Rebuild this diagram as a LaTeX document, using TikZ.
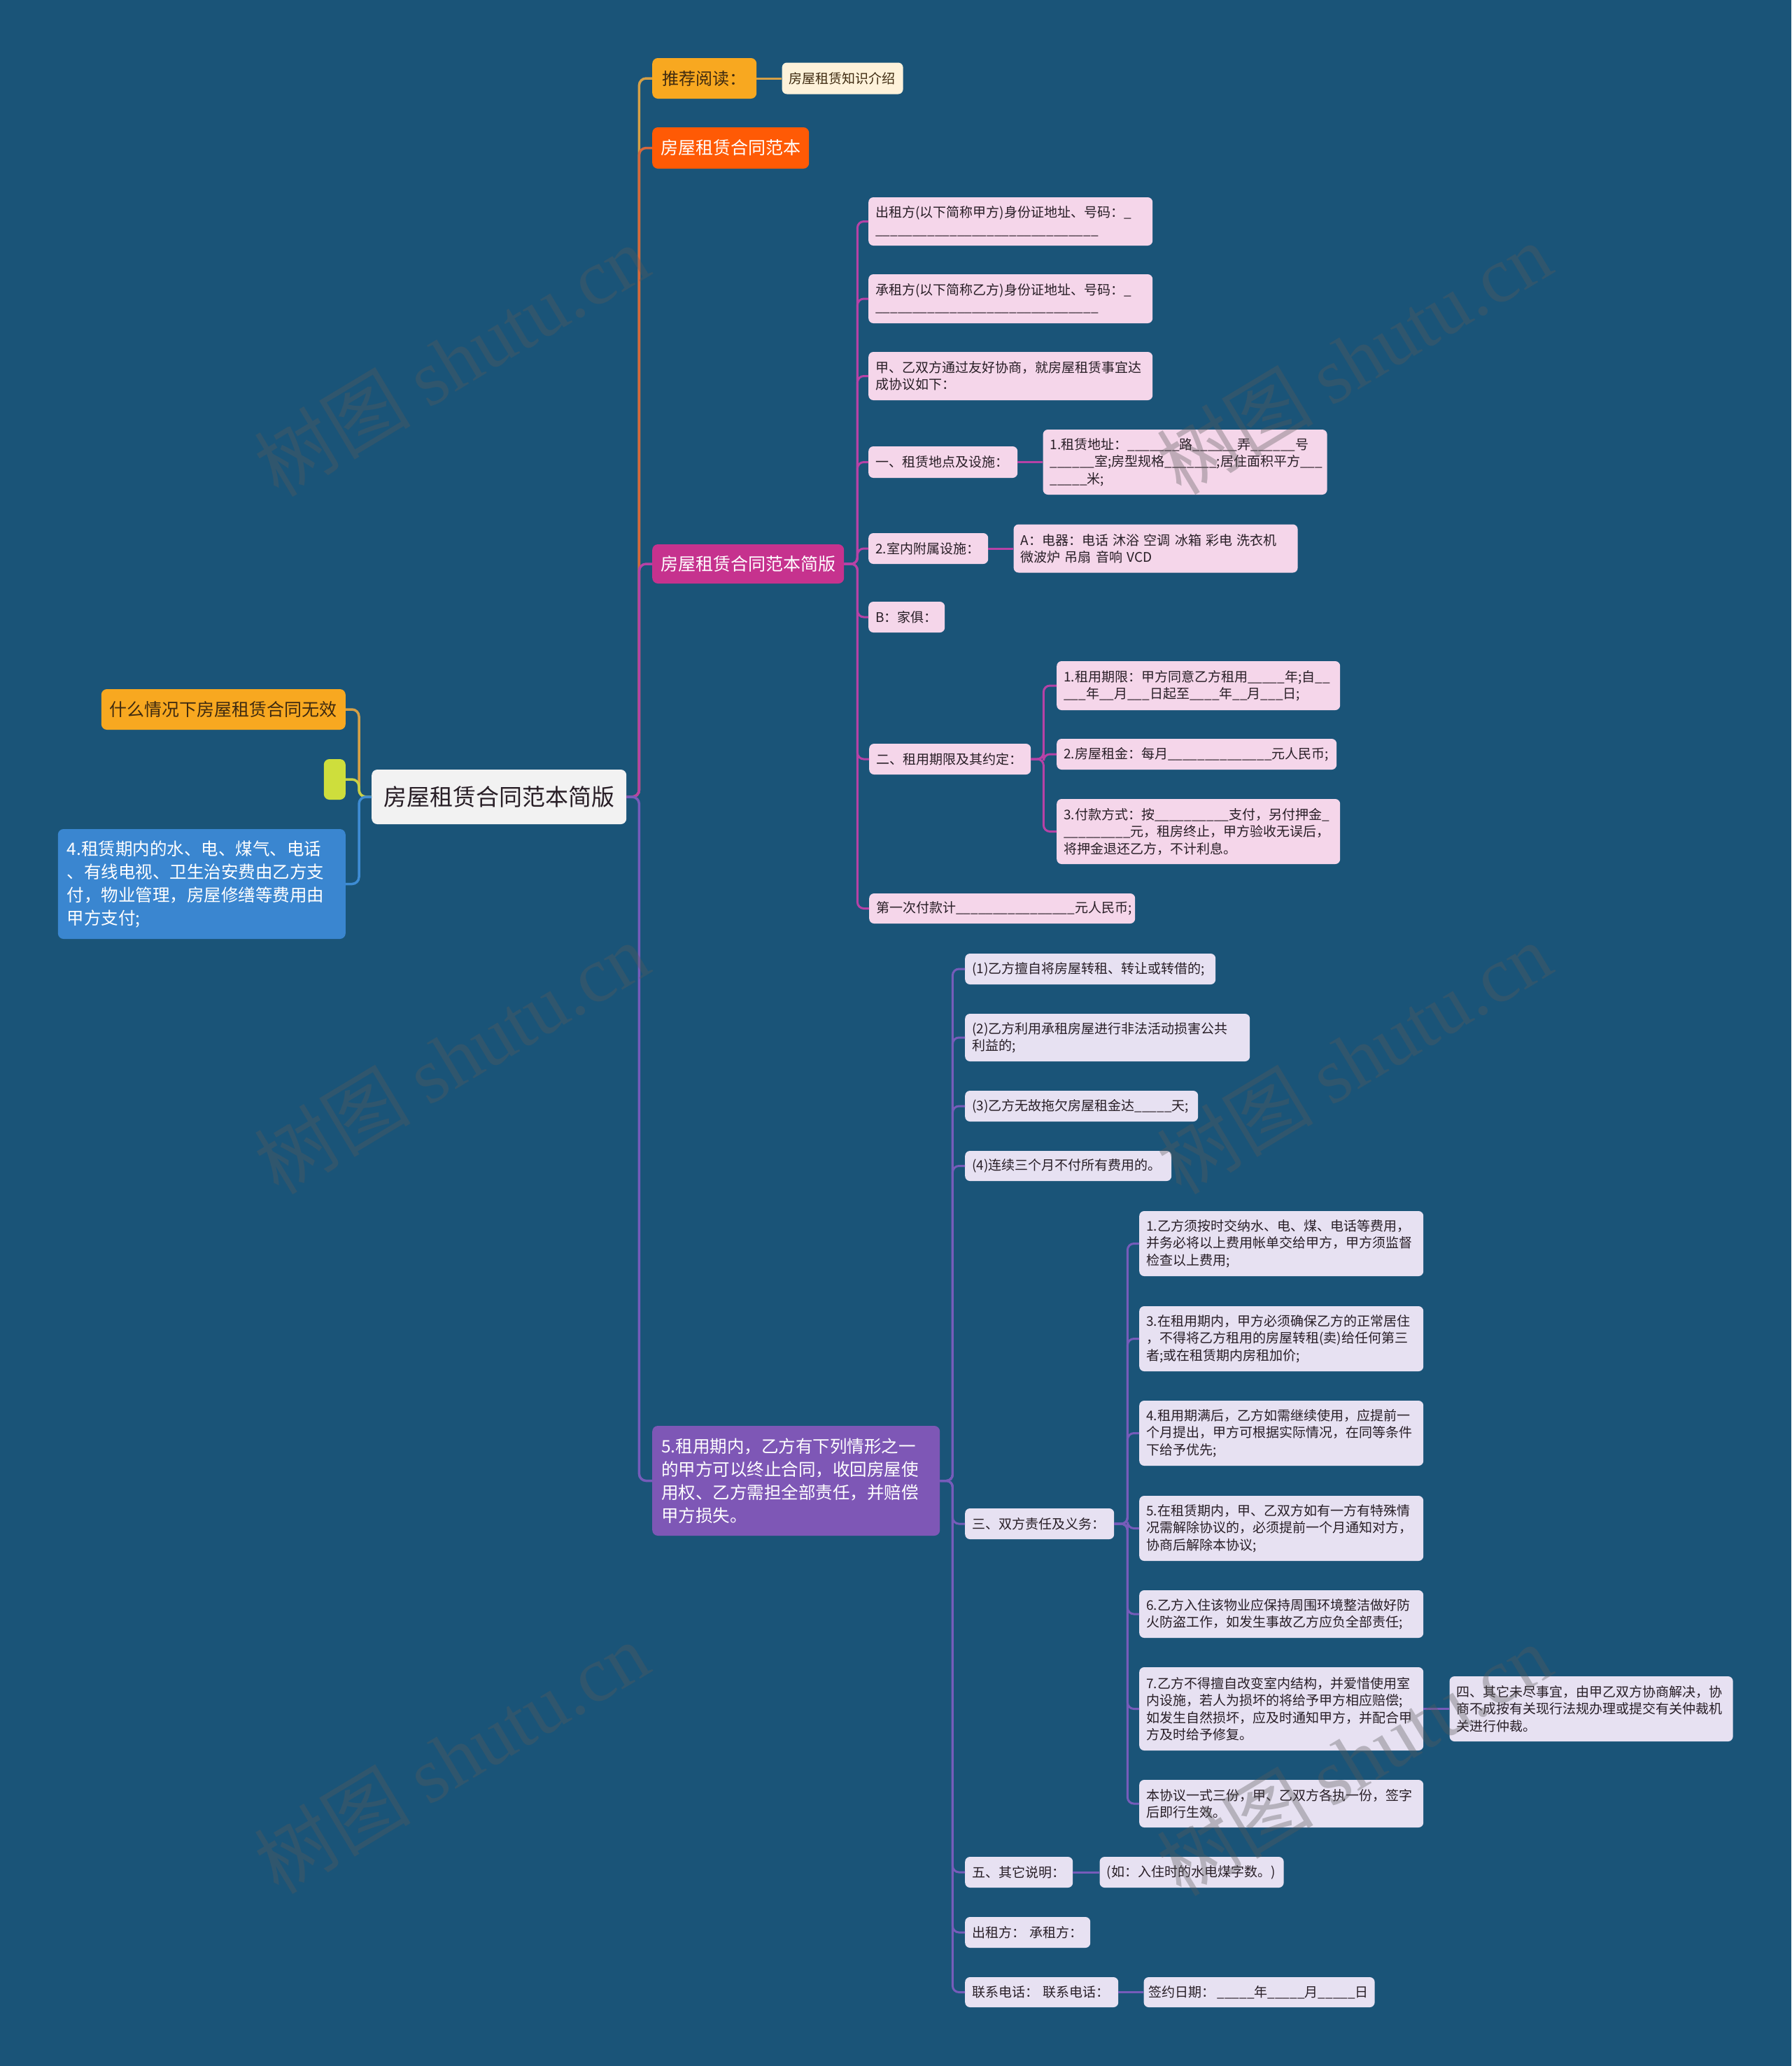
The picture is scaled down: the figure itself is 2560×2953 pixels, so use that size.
\documentclass[tikz,border=0pt]{standalone}
\usepackage{fontspec}
\setmainfont{Noto Sans CJK SC}
\newfontfamily\markfont{Liberation Serif}
\usetikzlibrary{positioning}

\definecolor{bgblue}{RGB}{26,84,120}
\definecolor{goldfill}{RGB}{248,168,32}
\definecolor{goldline}{RGB}{214,160,70}
\definecolor{creamfill}{RGB}{254,242,218}
\definecolor{redfill}{RGB}{255,90,5}
\definecolor{redline}{RGB}{214,104,60}
\definecolor{magfill}{RGB}{198,50,142}
\definecolor{magline}{RGB}{182,66,166}
\definecolor{pinkfill}{RGB}{245,214,234}
\definecolor{purpfill}{RGB}{126,87,182}
\definecolor{purpline}{RGB}{118,92,186}
\definecolor{lavfill}{RGB}{231,225,242}
\definecolor{rootfill}{RGB}{242,242,242}
\definecolor{limefill}{RGB}{206,222,60}
\definecolor{limeline}{RGB}{200,210,70}
\definecolor{bluefill}{RGB}{58,134,208}
\definecolor{blueline}{RGB}{62,140,212}
\definecolor{inkdark}{RGB}{40,30,38}
\definecolor{inkbrown}{RGB}{62,42,16}
\definecolor{markgray}{RGB}{90,90,90}

\newcommand{\fsz}[2]{\fontsize{#1pt}{#2pt}\selectfont}
\newcommand{\blanks}[1]{\foreach\bk in {1,...,#1}{\_}}

\begin{document}
\begin{tikzpicture}[x=1pt, y=-1pt,
  box/.style={rounded corners=7pt, inner ysep=0pt, inner xsep=10pt, anchor=west,
              align=left, text=inkdark},
  topic/.style={box, inner xsep=12pt, rounded corners=8pt},
  pleaf/.style={box, fill=pinkfill, font=\fsz{19}{24.5}},
  vleaf/.style={box, fill=lavfill, font=\fsz{19}{24.5}},
  link/.style={line width=3.5pt, rounded corners=10pt},
  sublink/.style={line width=3pt, rounded corners=9pt},
  wmark/.style={text=markgray, opacity=0.35, rotate=31, font=\fsz{112}{112}},
  node distance=36pt
]
\fill[bgblue] (0,0) rectangle (2560,2953);
\useasboundingbox (0,0) rectangle (2560,2953);

% centre and main branches
\node[topic, fill=rootfill, align=center, minimum width=364pt, minimum height=78pt,
      font=\fsz{33}{40}] (root) at (531,1139) {房屋租赁合同范本简版};
\node[topic, fill=goldfill, text=inkbrown, minimum width=149pt, minimum height=58pt,
      font=\fsz{24}{30}] (tuijian) at (932,112) {推荐阅读：};
\node[box, fill=creamfill, text=inkbrown, right=of tuijian, text width=153pt,
      minimum height=45pt, font=\fsz{19}{24}] (zhishi) {房屋租赁知识介绍};
\node[topic, fill=redfill, text=white, minimum width=223pt, minimum height=59pt,
      font=\fsz{25}{31}] (fanben) at (932,211.5) {房屋租赁合同范本};
\node[topic, fill=magfill, text=white, minimum width=272pt, minimum height=56pt,
      font=\fsz{25}{31}] (jianban) at (932,806) {房屋租赁合同范本简版};
\node[topic, fill=purpfill, text=white, inner xsep=13pt, text width=385pt,
      minimum height=157pt, font=\fsz{24.5}{33}] (zuyong) at (932,2116.5)
  {5.租用期内，乙方有下列情形之一\\的甲方可以终止合同，收回房屋使\\用权、乙方需担全部责任，并赔偿\\甲方损失。};

% left side
\node[topic, fill=goldfill, text=inkbrown, minimum width=347pt, minimum height=58pt,
      font=\fsz{25}{31}, anchor=east] (wuxiao) at (494,1014) {什么情况下房屋租赁合同无效};
\node[topic, fill=limefill, inner sep=0pt, minimum width=31pt, minimum height=58pt,
      anchor=east] (kong) at (494,1114) {};
\node[topic, fill=bluefill, text=white, inner xsep=13pt, text width=385pt,
      minimum height=157pt, font=\fsz{24.5}{33}, anchor=east] (shuidian) at (494,1263.5)
  {4.租赁期内的水、电、煤气、电话\\、有线电视、卫生治安费由乙方支\\付，物业管理，房屋修缮等费用由\\甲方支付;};

% children of jianban
\node[pleaf, text width=386pt, minimum height=69pt] (p1) at (1241,316.5)
  {出租方(以下简称甲方)身份证地址、号码：\_\\\blanks{30}};
\node[pleaf, text width=386pt, minimum height=70pt] (p2) at (1241,427)
  {承租方(以下简称乙方)身份证地址、号码：\_\\\blanks{30}};
\node[pleaf, text width=386pt, minimum height=69pt] (p3) at (1241,537.5)
  {甲、乙双方通过友好协商，就房屋租赁事宜达\\成协议如下：};
\node[pleaf, text width=193pt, minimum height=45pt] (p4) at (1241,660.5) {一、租赁地点及设施：};
\node[pleaf, right=of p4, text width=386pt, minimum height=93pt] (p4a)
  {1.租赁地址：\blanks{7}路\blanks{6}弄\blanks{6}号\\\blanks{6}室;房型规格\blanks{7};居住面积平方\blanks{3}\\\blanks{5}米;};
\node[pleaf, text width=151pt, minimum height=44pt] (p5) at (1241,784) {2.室内附属设施：};
\node[pleaf, right=of p5, text width=386pt, minimum height=69pt] (p5a)
  {A：电器：电话 沐浴 空调 冰箱 彩电 洗衣机\\微波炉 吊扇 音响 VCD};
\node[pleaf, text width=89pt, minimum height=44pt] (p6) at (1241,882) {B：家俱：};
\node[pleaf, text width=211pt, minimum height=44pt] (p7) at (1242,1085) {二、租用期限及其约定：};
\node[pleaf, text width=385pt, minimum height=70pt] (p7a) at (1510,980)
  {1.租用期限：甲方同意乙方租用\blanks{5}年;自\blanks{2}\\\blanks{3}年\blanks{2}月\blanks{3}日起至\blanks{4}年\blanks{2}月\blanks{3}日;};
\node[pleaf, text width=380pt, minimum height=44pt] (p7b) at (1510,1078)
  {2.房屋租金：每月\blanks{14}元人民币;};
\node[pleaf, text width=385pt, minimum height=93pt] (p7c) at (1510,1188.5)
  {3.付款方式：按\blanks{10}支付，另付押金\_\\\blanks{9}元，租房终止，甲方验收无误后，\\将押金退还乙方，不计利息。};
\node[pleaf, text width=360pt, minimum height=43pt] (p8) at (1242,1298.5)
  {第一次付款计\blanks{16}元人民币;};

% children of zuyong
\node[vleaf, text width=338pt, minimum height=44pt] (q1) at (1379,1385)
  {(1)乙方擅自将房屋转租、转让或转借的;};
\node[vleaf, text width=387pt, minimum height=68pt] (q2) at (1379,1483)
  {(2)乙方利用承租房屋进行非法活动损害公共\\利益的;};
\node[vleaf, text width=313pt, minimum height=44pt] (q3) at (1379,1581)
  {(3)乙方无故拖欠房屋租金达\blanks{5}天;};
\node[vleaf, text width=275pt, minimum height=43pt] (q4) at (1379,1666.5)
  {(4)连续三个月不付所有费用的。};
\node[vleaf, text width=193pt, minimum height=44pt] (q5) at (1379,2178) {三、双方责任及义务：};
\node[vleaf, text width=386pt, minimum height=93pt] (q5a) at (1628,1777.5)
  {1.乙方须按时交纳水、电、煤、电话等费用，\\并务必将以上费用帐单交给甲方，甲方须监督\\检查以上费用;};
\node[vleaf, text width=386pt, minimum height=93pt] (q5b) at (1628,1913.5)
  {3.在租用期内，甲方必须确保乙方的正常居住\\，不得将乙方租用的房屋转租(卖)给任何第三\\者;或在租赁期内房租加价;};
\node[vleaf, text width=386pt, minimum height=93pt] (q5c) at (1628,2048.5)
  {4.租用期满后，乙方如需继续使用，应提前一\\个月提出，甲方可根据实际情况，在同等条件\\下给予优先;};
\node[vleaf, text width=386pt, minimum height=93pt] (q5d) at (1628,2184.5)
  {5.在租赁期内，甲、乙双方如有一方有特殊情\\况需解除协议的，必须提前一个月通知对方，\\协商后解除本协议;};
\node[vleaf, text width=386pt, minimum height=68pt] (q5e) at (1628,2307)
  {6.乙方入住该物业应保持周围环境整洁做好防\\火防盗工作，如发生事故乙方应负全部责任;};
\node[vleaf, text width=386pt, minimum height=119pt] (q5f) at (1628,2442.5)
  {7.乙方不得擅自改变室内结构，并爱惜使用室\\内设施，若人为损坏的将给予甲方相应赔偿;\\如发生自然损坏，应及时通知甲方，并配合甲\\方及时给予修复。};
\node[vleaf, right=37pt of q5f, text width=385pt, minimum height=93pt] (q5f1)
  {四、其它未尽事宜，由甲乙双方协商解决，协\\商不成按有关现行法规办理或提交有关仲裁机\\关进行仲裁。};
\node[vleaf, text width=386pt, minimum height=68pt] (q5g) at (1628,2578)
  {本协议一式三份，甲、乙双方各执一份，签字\\后即行生效。};
\node[vleaf, text width=134pt, minimum height=44pt] (q6) at (1379,2676) {五、其它说明：};
\node[vleaf, right=38pt of q6, text width=243pt, minimum height=44pt] (q6a)
  {(如：入住时的水电煤字数。)};
\node[vleaf, text width=159pt, minimum height=44pt] (q7) at (1379,2762) {出租方：~承租方：};
\node[vleaf, text width=199pt, minimum height=43pt] (q8) at (1379,2847.5) {联系电话：~联系电话：};
\node[vleaf, right=of q8, inner xsep=7pt, text width=316pt, minimum height=43pt] (q8a)
  {签约日期：\hspace{3pt}\blanks{5}年\blanks{5}月\blanks{5}日};

% connectors
\draw[link, goldline] (root.east) -- ++(18,0) |- (tuijian.west);
\draw[link, redline] (root.east) -- ++(18,0) |- (fanben.west);
\draw[link, magline] (root.east) -- ++(18,0) |- (jianban.west);
\draw[link, purpline] (root.east) -- ++(18,0) |- (zuyong.west);
\draw[sublink, goldline] (tuijian) -- (zhishi);
\draw[link, goldline] (root.west) -- ++(-18,0) |- (wuxiao.east);
\draw[link, limeline] (root.west) -- ++(-18,0) |- (kong.east);
\draw[link, blueline] (root.west) -- ++(-18,0) |- (shuidian.east);

\foreach \leaf in {p1,p2,p3,p4,p5,p6,p7,p8}
  \draw[sublink, magline] (jianban.east) -- ++(19,0) |- (\leaf.west);
\foreach \leaf in {p7a,p7b,p7c}
  \draw[sublink, magline] (p7.east) -- ++(18,0) |- (\leaf.west);
\draw[sublink, magline] (p4) -- (p4a);
\draw[sublink, magline] (p5) -- (p5a);

\foreach \leaf in {q1,q2,q3,q4,q5,q6,q7,q8}
  \draw[sublink, purpline] (zuyong.east) -- ++(18,0) |- (\leaf.west);
\foreach \leaf in {q5a,q5b,q5c,q5d,q5e,q5f,q5g}
  \draw[sublink, purpline] (q5.east) -- ++(19,0) |- (\leaf.west);
\draw[sublink, purpline] (q5f) -- (q5f1);
\draw[sublink, purpline] (q6) -- (q6a);
\draw[sublink, purpline] (q8) -- (q8a);

% watermarks
\foreach \wx/\wy [count=\i] in {645/515, 1935/512, 645/1512, 1935/1512, 645/2512, 1935/2515}
  \node[wmark] (wm\i) at (\wx,\wy) {树图 {\markfont shutu.cn}};
\end{tikzpicture}
\end{document}
